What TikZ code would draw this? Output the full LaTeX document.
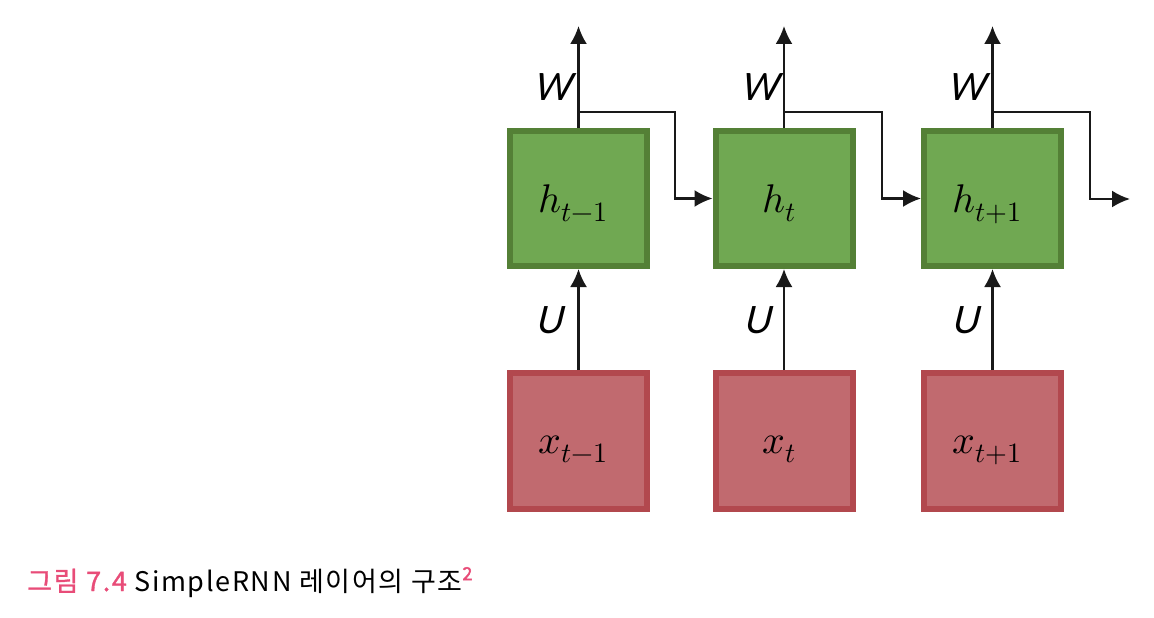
\documentclass[tikz,border=0pt]{standalone}
\usepackage{fontspec}
\usepackage{unicode-math}
\setmainfont{Carlito}
\newfontfamily\krfont[LetterSpace=6]{Noto Sans CJK KR}
\newfontfamily\krmed[LetterSpace=6,FakeBold=1.2]{Noto Sans CJK KR}
\newfontfamily\krbold[FakeBold=2.5]{Noto Sans CJK KR}
\newfontfamily\lblfont[ItalicFeatures={FakeSlant=0.12}]{Carlito}
\usetikzlibrary{arrows.meta}
\definecolor{gfill}{RGB}{112,168,82}
\definecolor{gdraw}{RGB}{84,128,54}
\definecolor{rfill}{RGB}{193,106,111}
\definecolor{rdraw}{RGB}{178,72,78}
\definecolor{lnc}{RGB}{25,25,25}
\definecolor{pinkc}{RGB}{232,76,120}
\tikzset{
  hbox/.style={draw=gdraw, fill=gfill, line width=6pt, minimum width=137pt, minimum height=135pt, inner sep=0pt},
  xbox/.style={draw=rdraw, fill=rfill, line width=6pt, minimum width=137pt, minimum height=136pt, inner sep=0pt},
  conn/.style={draw=lnc, line width=2.2pt},
  arr/.style={conn, -{Latex[length=18pt,width=17pt]}},
  mlabel/.style={anchor=base, inner sep=0pt, font=\fontsize{40}{44}\selectfont, text=black},
  wlabel/.style={inner sep=0pt, font=\lblfont\itshape\fontsize{42}{44}\selectfont, text=black},
}
\begin{document}
\begin{tikzpicture}[x=1pt,y=-1pt]
\useasboundingbox (0,0) rectangle (1154,618);
% boxes
\node[hbox] (h1) at (578.5,198.5) {};
\node[hbox] (h2) at (784,198.5) {};
\node[hbox] (h3) at (992.5,198.5) {};
\node[xbox] (x1) at (578.5,441) {};
\node[xbox] (x2) at (784,441) {};
\node[xbox] (x3) at (992.5,441) {};
\node[mlabel] (th1) at (573,212) {$h_{t-1}$};
\node[mlabel] (th2) at (779,212) {$h_{t}$};
\node[mlabel] (th3) at (987,212) {$h_{t+1}$};
\node[mlabel] (tx1) at (573,453) {$x_{t-1}$};
\node[mlabel] (tx2) at (779,453) {$x_{t}$};
\node[mlabel] (tx3) at (987,453) {$x_{t+1}$};
% coordinates
\coordinate (o1) at (578.5,26);
\coordinate (o2) at (784,26);
\coordinate (o3) at (992.5,26);
\coordinate (b1) at (578.5,112);
\coordinate (b2) at (784,112);
\coordinate (b3) at (992.5,112);
\coordinate (c1) at (675,112);
\coordinate (c2) at (882,112);
\coordinate (c3) at (1090,112);
\coordinate (e3) at (1130,199);
% arrows
\draw[arr] (x1.north) -- (h1.south);
\draw[arr] (x2.north) -- (h2.south);
\draw[arr] (x3.north) -- (h3.south);
\draw[arr] (h1.north) -- (o1);
\draw[arr] (h2.north) -- (o2);
\draw[arr] (h3.north) -- (o3);
\draw[arr] (b1) -- (c1) |- (h2.west);
\draw[arr] (b2) -- (c2) |- (h3.west);
\draw[arr] (b3) -- (c3) |- (e3);
% labels
\node[wlabel] (w1) at (553,87) {W};
\node[wlabel] (w2) at (760,87) {W};
\node[wlabel] (w3) at (967,87) {W};
\node[wlabel] (u1) at (550,320) {U};
\node[wlabel] (u2) at (758,320) {U};
\node[wlabel] (u3) at (966,320) {U};
% caption
\node[anchor=base west, inner sep=0pt, font=\krfont\fontsize{27}{30}\selectfont] (cap) at (27,591)
  {\textcolor{pinkc}{\krmed 그림 7.4} SimpleRNN 레이어의 구조\raisebox{0.4em}{\textcolor{pinkc}{\krbold\fontsize{18}{20}\selectfont 2}}};
\end{tikzpicture}
\end{document}
